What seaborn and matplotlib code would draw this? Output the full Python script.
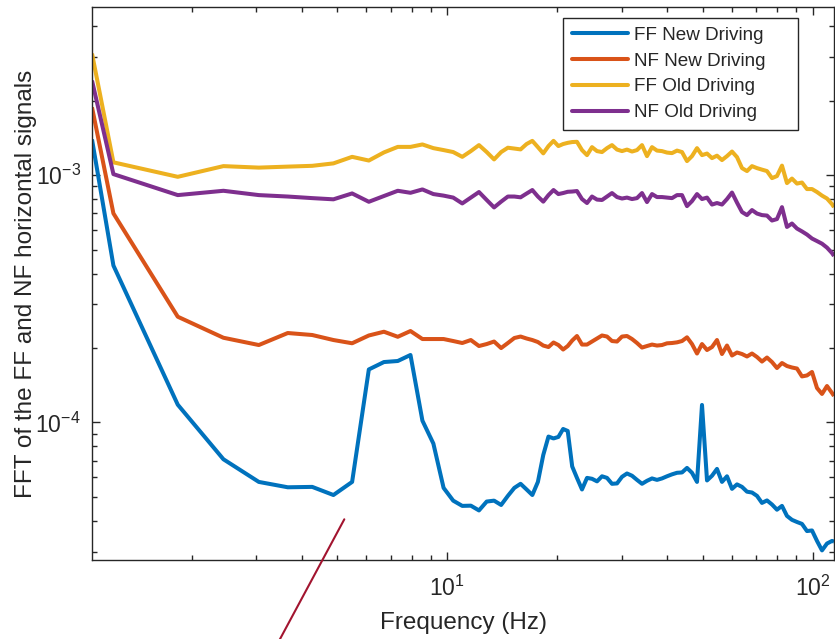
import numpy as np
import pandas as pd
import matplotlib
matplotlib.use("Agg")
import matplotlib.pyplot as plt
from matplotlib.lines import Line2D
from matplotlib.ticker import LogLocator
import seaborn as sns

# ---------------- data (amplitudes in units of 1e-4) ----------------
AMP_UNIT = 1e-4
freq_hz = [1.066, 1.22, 1.83, 2.44, 3.05, 3.66, 4.27, 4.88, 5.49, 6.10, 6.71, 7.32,
           7.93, 8.55, 9.16, 9.77, 10.38, 10.99, 11.60, 12.21, 12.82, 13.43, 14.04,
           14.65, 15.26, 15.87, 16.48, 17.09, 17.70, 18.31, 18.92, 19.53, 20.14,
           20.75, 21.36, 21.97,
           22.64, 23.37, 24.12, 24.89, 25.69, 26.51, 27.36, 28.23, 29.14, 30.07,
           31.03, 32.03, 33.05, 34.11, 35.20, 36.33, 37.49, 38.69, 39.93, 41.21,
           42.53, 43.89, 45.29, 46.74, 48.24, 49.78, 51.38, 53.02, 54.71, 56.46,
           58.27, 60.14, 62.06, 64.05, 66.10, 68.21, 70.39, 72.64, 74.97, 77.37,
           79.84, 82.40, 85.03, 87.75, 90.56, 93.46, 96.45, 99.56, 102.75, 106.04,
           109.42, 112.93, 114.36]

ff_new = [13.94, 4.31, 1.18, 0.710, 0.575, 0.547, 0.549, 0.509, 0.575, 1.638, 1.755,
          1.772, 1.874, 1.017, 0.822, 0.544, 0.483, 0.460, 0.461, 0.441, 0.479, 0.483,
          0.464, 0.505, 0.544, 0.565, 0.536, 0.509, 0.575, 0.739, 0.877, 0.862, 0.874,
          0.941, 0.924, 0.664,
          0.597, 0.536, 0.597, 0.592, 0.578, 0.606, 0.597, 0.565, 0.567, 0.603, 0.622,
          0.609, 0.586, 0.565, 0.581, 0.594, 0.586, 0.594, 0.606, 0.617, 0.626, 0.628,
          0.655, 0.626, 0.575, 1.177, 0.583, 0.609, 0.649, 0.575, 0.606, 0.539, 0.562,
          0.549, 0.525, 0.521, 0.505, 0.473, 0.484, 0.466, 0.444, 0.460, 0.419, 0.404,
          0.396, 0.389, 0.364, 0.366, 0.332, 0.304, 0.324, 0.332, 0.330]

nf_new = [18.8, 7.00, 2.676, 2.20, 2.056, 2.299, 2.257, 2.154, 2.09, 2.247, 2.327, 2.22,
          2.342, 2.174, 2.174, 2.174, 2.134, 2.095, 2.154, 2.037, 2.075, 2.124, 1.999,
          2.095, 2.195, 2.225, 2.185, 2.154, 2.114, 2.046, 2.018, 2.105, 2.056, 1.972,
          2.037, 2.144,
          2.236, 2.065, 2.065, 2.124, 2.185, 2.247, 2.225, 2.134, 2.124, 2.225, 2.236,
          2.174, 2.095, 2.008, 2.037, 2.065, 2.046, 2.056, 2.089, 2.095, 2.108, 2.134,
          2.209, 2.075, 1.90, 2.075, 1.963, 2.018, 2.154, 1.891, 2.046, 1.865, 1.918,
          1.891, 1.848, 1.90, 1.839, 1.763, 1.83, 1.755, 1.66, 1.739, 1.691, 1.668,
          1.652, 1.535, 1.549, 1.600, 1.378, 1.304, 1.404, 1.316, 1.280]

ff_old = [31.0, 11.26, 9.84, 10.87, 10.72, 10.82, 10.90, 11.15, 11.85, 11.45, 12.35,
          13.0, 13.0, 13.3, 12.85, 12.62, 12.39, 11.85, 12.5, 13.22, 12.39, 11.57, 12.39,
          12.9, 12.8, 12.7, 13.35, 13.75, 12.97, 12.24, 13.1, 13.75, 13.1, 13.35, 13.5,
          13.6,
          13.63, 12.62, 12.04, 12.97, 12.50, 12.39, 12.85, 13.22, 12.68, 12.50, 12.68,
          12.45, 12.62, 13.22, 11.93, 12.97, 12.56, 12.50, 12.33, 12.27, 12.56, 12.39,
          11.39, 11.93, 12.85, 12.04, 12.22, 11.71, 11.98, 11.50, 11.93, 12.45, 11.82,
          10.67, 10.38, 10.87, 10.67, 10.52, 10.38, 9.72, 9.91, 10.92, 9.28, 9.68, 9.24,
          9.33, 8.78, 8.78, 8.54, 8.26, 8.04, 7.63, 7.42]

nf_old = [24.1, 10.09, 8.30, 8.64, 8.30, 8.19, 8.07, 7.98, 8.43, 7.80, 8.23, 8.64, 8.48,
          8.75, 8.38, 8.26, 8.11, 7.68, 8.11, 8.54, 7.93, 7.40, 7.81, 8.19, 8.19, 8.13,
          8.42, 8.70, 8.19, 7.81, 8.30, 8.70, 8.38, 8.46, 8.56, 8.58,
          8.62, 8.00, 7.71, 8.19, 7.96, 7.93, 8.19, 8.46, 8.15, 8.04, 8.11, 8.00, 8.07,
          8.46, 7.78, 8.38, 8.15, 8.15, 8.11, 8.07, 8.30, 8.30, 7.49, 7.85, 8.38, 8.00,
          8.11, 7.60, 7.71, 7.60, 8.00, 8.50, 7.74, 7.09, 6.89, 7.22, 6.99, 6.89, 6.86,
          6.55, 6.64, 7.42, 6.17, 6.37, 6.08, 5.92, 5.75, 5.54, 5.41, 5.28, 5.09, 4.84,
          4.71]

series_names = ["FF New Driving", "NF New Driving", "FF Old Driving", "NF Old Driving"]
series_vals = [ff_new, nf_new, ff_old, nf_old]
colors = ["#0072BD", "#D95319", "#EDB120", "#7E2F8E"]

x_label = "Frequency (Hz)"
y_label = "FFT of the FF and NF horizontal signals"
xlim = (1.066, 114.36)
ylim = (2.78e-5, 4.78e-3)

rows = []
for name, vals in zip(series_names, series_vals):
    for f, v in zip(freq_hz, vals):
        rows.append({"Frequency": f, "Amplitude": v * AMP_UNIT, "Series": name})
df = pd.DataFrame(rows)

# ---------------- style ----------------
sns.set_style("ticks")
plt.rcParams["font.family"] = ["Liberation Sans", "DejaVu Sans"]
plt.rcParams["mathtext.fontset"] = "custom"
plt.rcParams["mathtext.rm"] = "Liberation Sans"
plt.rcParams["mathtext.it"] = "Liberation Sans:italic"
plt.rcParams["mathtext.bf"] = "Liberation Sans:bold"
axis_color = "#262626"

fig = plt.figure(figsize=(8.35, 6.39), dpi=100)
ax = fig.add_axes([92 / 835, 1 - 560 / 639, (834 - 92) / 835, (560 - 7) / 639])

sns.lineplot(data=df, x="Frequency", y="Amplitude", hue="Series",
             hue_order=series_names, palette=colors, estimator=None, sort=False,
             linewidth=2.9, legend=False, ax=ax)
for ln in ax.lines:
    ln.set_solid_joinstyle("round")
    ln.set_solid_capstyle("butt")

ax.set_xscale("log")
ax.set_yscale("log")
ax.set_xlim(*xlim)
ax.set_ylim(*ylim)
ax.xaxis.set_major_locator(LogLocator(base=10, numticks=10))
ax.yaxis.set_major_locator(LogLocator(base=10, numticks=10))
ax.xaxis.set_minor_locator(LogLocator(base=10, subs=np.arange(2, 10), numticks=20))
ax.yaxis.set_minor_locator(LogLocator(base=10, subs=np.arange(2, 10), numticks=20))

ax.tick_params(which="both", direction="in", top=True, right=True,
               color=axis_color, labelcolor=axis_color, width=1.0)
ax.tick_params(which="major", length=6, labelsize=16.5)
ax.tick_params(axis="x", which="major", pad=11)
ax.tick_params(axis="y", which="major", pad=8)
ax.tick_params(which="minor", length=3.5, labelbottom=False, labelleft=False)
for sp in ax.spines.values():
    sp.set_color(axis_color)
    sp.set_linewidth(1.0)
    sp.set_visible(True)

ax.set_xlabel(x_label, fontsize=17.5, color=axis_color)
ax.set_ylabel(y_label, fontsize=17.5, color=axis_color)
ax.xaxis.set_label_coords(0.5, (560 - 612) / 553)
ax.yaxis.set_label_coords((37 - 92) / 742, 0.5)

handles = [Line2D([0], [0], color=c, lw=2.9) for c in colors]
leg_x0 = (563.3 - 92) / 742
leg_top = (560 - 18.3) / 553
leg_w = (798.3 - 563.3) / 742
leg = ax.legend(handles, series_names, loc="upper left",
                bbox_to_anchor=(leg_x0, leg_top - 0.2, leg_w, 0.2), mode="expand",
                borderaxespad=0, fontsize=13.6, frameon=True, fancybox=False,
                framealpha=1, edgecolor=axis_color, handlelength=2.95,
                handletextpad=0.36, labelspacing=0.45, borderpad=0.45)
leg.get_frame().set_linewidth(1.0)
for t in leg.get_texts():
    t.set_color(axis_color)

# annotation stroke crossing the bottom axis
fig.add_artist(Line2D([344.3 / 835, 279.5 / 835], [1 - 519.3 / 639, 1 - 640 / 639],
                      transform=fig.transFigure, color="#A2142F", lw=1.5))

fig.savefig("out.png", dpi=100)
